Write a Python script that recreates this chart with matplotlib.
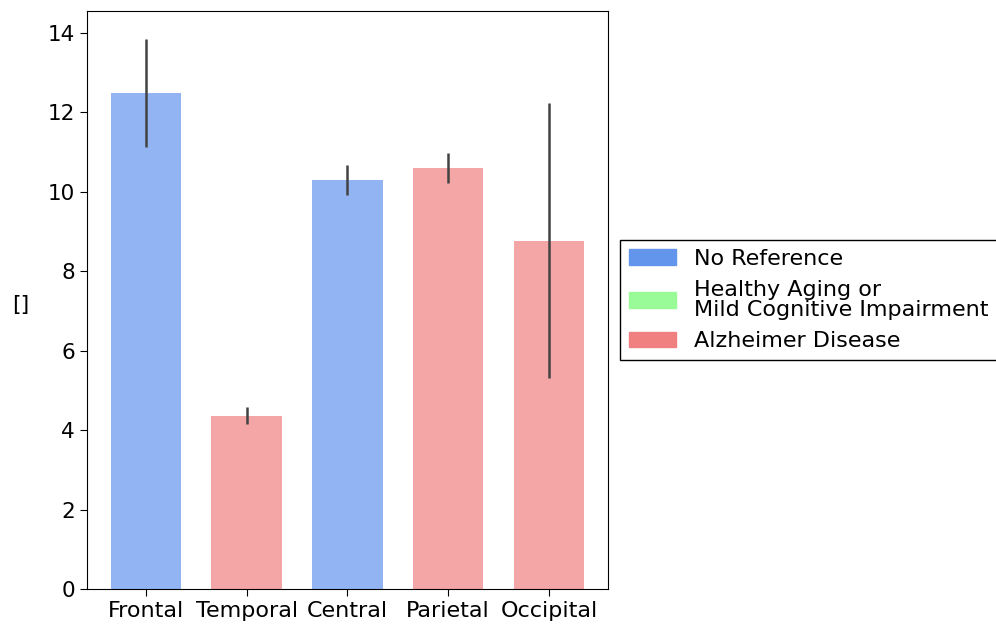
import matplotlib.pyplot as plt
import matplotlib.patches as mpatches
import numpy as np

regions = ['Frontal', 'Temporal', 'Central', 'Parietal', 'Occipital']
values = [12.49, 4.36, 10.30, 10.60, 8.76]
err_low = [11.13, 4.15, 9.92, 10.22, 5.31]
err_high = [13.85, 4.58, 10.68, 10.98, 12.24]
groups = ['No Reference', 'Alzheimer Disease', 'No Reference', 'Alzheimer Disease', 'Alzheimer Disease']

legend_labels = ['No Reference', 'Healthy Aging or\nMild Cognitive Impairment', 'Alzheimer Disease']
legend_colors = ['cornflowerblue', 'palegreen', 'lightcoral']
color_map = dict(zip(legend_labels, legend_colors))

fs = 16

fig = plt.figure(figsize=(9.96, 6.28), dpi=100)
ax = fig.add_axes([0.0873, 0.0621, 0.5231, 0.9204])

x = np.arange(len(regions))
bar_colors = [color_map[g] for g in groups]
ax.bar(x, values, width=0.7, color=bar_colors, alpha=0.7)
yerr = [np.array(values) - np.array(err_low), np.array(err_high) - np.array(values)]
ax.errorbar(x, values, yerr=yerr, fmt='none', ecolor='#424242', elinewidth=1.8)

ax.set_xticks(x)
ax.set_xticklabels(regions, fontsize=fs)
ax.tick_params(axis='y', labelsize=15.5)
ax.tick_params(length=5)
ax.set_xlim(-0.586, 4.586)
ax.set_ylim(0, 14.55)
ax.set_ylabel('[]', rotation=0, fontsize=fs)
ax.yaxis.set_label_coords(-0.128, 0.474)

handles = [mpatches.Patch(color=c, label=l) for l, c in zip(legend_labels, legend_colors)]
leg = ax.legend(handles=handles, loc='center left', bbox_to_anchor=(1.0, 0.5),
                fontsize=fs, fancybox=False, edgecolor='black', framealpha=1,
                handlelength=2.1, labelspacing=0.48, borderaxespad=0.55)
for t in leg.get_texts():
    t.set_linespacing(1.05)

fig.savefig('out.png', dpi=100)
